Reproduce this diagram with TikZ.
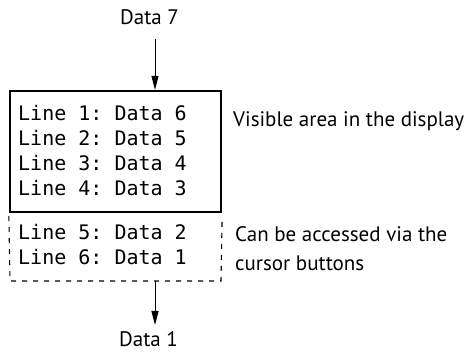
\documentclass[tikz,border=0pt]{standalone}
\usepackage{fontspec}
\setmainfont{PT Sans}
\newfontfamily\lcdfont{DejaVu Sans Mono}
\usetikzlibrary{arrows.meta}
\tikzset{
  lbl/.style={font=\fontsize{21}{29}\selectfont, inner sep=0pt},
  lcd/.style={font=\lcdfont\fontsize{20}{25}\selectfont\frenchspacing, inner sep=0pt, anchor=base west},
  arr/.style={line width=1pt, -{Triangle[length=14pt,width=7pt]}},
  visbox/.style={draw, line width=2.3pt, inner sep=0pt, minimum width=211pt, minimum height=121pt},
  hidden/.style={line width=1.1pt, dash pattern=on 5pt off 6pt}
}
\begin{document}
\begin{tikzpicture}[x=1pt,y=-1pt]
\useasboundingbox (0,0) rectangle (464,355);
% visible display box
\node[visbox] (vis) at (115.5,151.5) {};
% hidden area (dashed)
\coordinate (hl) at (10,281);
\coordinate (hr) at (221,281);
\draw[hidden] ([yshift=-3pt]vis.south west) -- (hl) -- (hr) -- ([yshift=-3pt]vis.south east);
% lines
\node[lcd] (l1) at (18,121) {Line 1: Data 6};
\node[lcd] (l2) at (18,146) {Line 2: Data 5};
\node[lcd] (l3) at (18,171) {Line 3: Data 4};
\node[lcd] (l4) at (18,196) {Line 4: Data 3};
\node[lcd] (l5) at (18,240) {Line 5: Data 2};
\node[lcd] (l6) at (18,265) {Line 6: Data 1};
% labels
\node[lbl, anchor=base] (d7) at (149.5,25) {Data 7};
\node[lbl, anchor=base] (d1) at (148.5,347) {Data 1};
\node[lbl, anchor=base west] (vislbl) at (233,127) {Visible area in the display};
\node[lbl, anchor=base west] (cur1) at (235,241.5) {Can be accessed via the};
\node[lbl, anchor=base west] (cur2) at (235,270.5) {cursor buttons};
% arrows
\coordinate (a7) at (155,39);
\coordinate (b1) at (155,325);
\draw[arr] (a7) -- (a7 |- vis.north);
\draw[arr] (hl -| b1) -- (b1);
\end{tikzpicture}
\end{document}
